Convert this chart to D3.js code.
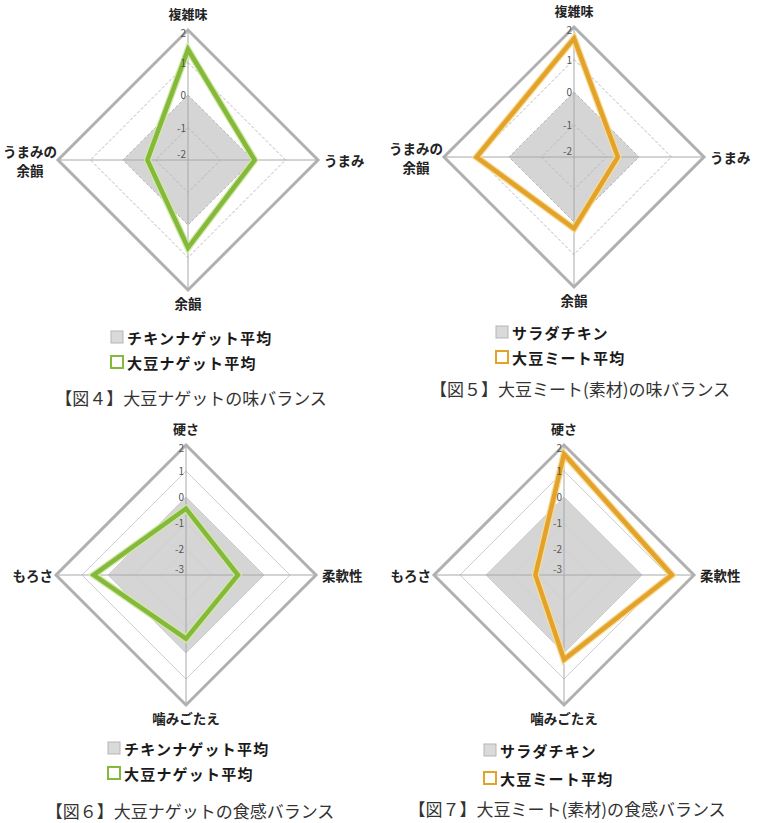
<!DOCTYPE html>
<html>
<head>
<meta charset="utf-8">
<script src="https://cdn.jsdelivr.net/npm/d3@7"></script>
<style>
  body { margin: 0; background: #fff; }
  svg { display: block; font-family: "Noto Sans CJK JP", "Noto Sans", sans-serif; }
</style>
</head>
<body>
<svg id="chart" width="760" height="823"></svg>
<script>
// axes (clockwise from top)
const tasteAxes = ['複雑味', 'うまみ', '余韻', 'うまみの\n余韻'];
const textureAxes = ['硬さ', '柔軟性', '噛みごたえ', 'もろさ'];
const tasteTicks = [-2, -1, 0, 1, 2];
const textureTicks = [-3, -2, -1, 0, 1, 2];

// fig 4: soy nuggets vs chicken nuggets (taste)
const fig4Base = [0, 0, 0, 0];
const fig4Soy = [1.4, 0.05, 0.7, -0.75];
// fig 5: soy meat vs salad chicken (taste)
const fig5Base = [0, 0, 0, 0];
const fig5Soy = [1.65, -0.65, 0.2, 1.0];
// fig 6: soy nuggets vs chicken nuggets (texture)
const fig6Base = [0, 0, 0, 0];
const fig6Soy = [-0.45, -1.0, -0.55, 0.55];
// fig 7: soy meat vs salad chicken (texture)
const fig7Base = [0, 0, 0, 0];
const fig7Soy = [1.65, 1.15, 0.25, -1.9];

const legendChicken = 'チキンナゲット平均';
const legendNugget = '大豆ナゲット平均';
const legendSalad = 'サラダチキン';
const legendMeat = '大豆ミート平均';

const titles = [
  '【図４】大豆ナゲットの味バランス',
  '【図５】大豆ミート(素材)の味バランス',
  '【図６】大豆ナゲットの食感バランス',
  '【図７】大豆ミート(素材)の食感バランス'
];

const GREEN = '#84b93a';
const ORANGE = '#e3a22b';
const R = 130;

const panels = [
  { cx: 188, cy: 160, axes: tasteAxes, ticks: tasteTicks, base: fig4Base, soy: fig4Soy,
    color: GREEN, halo: '#d2e8a8', legend: [legendChicken, legendNugget],
    lx: 110, ly: [337, 362], title: titles[0], tx: 191, ty: 397, dashed: true },
  { cx: 574, cy: 157, axes: tasteAxes, ticks: tasteTicks, base: fig5Base, soy: fig5Soy,
    color: ORANGE, halo: '#f7dc95', legend: [legendSalad, legendMeat],
    lx: 495, ly: [332, 357], title: titles[1], tx: 580, ty: 388, dashed: true },
  { cx: 186, cy: 575, axes: textureAxes, ticks: textureTicks, base: fig6Base, soy: fig6Soy,
    color: GREEN, halo: '#d2e8a8', legend: [legendChicken, legendNugget],
    lx: 107, ly: [748, 773], title: titles[2], tx: 190, ty: 810, dashed: false },
  { cx: 564, cy: 575, axes: textureAxes, ticks: textureTicks, base: fig7Base, soy: fig7Soy,
    color: ORANGE, halo: '#f7dc95', legend: [legendSalad, legendMeat],
    lx: 483, ly: [750, 778], title: titles[3], tx: 567, ty: 808, dashed: false }
];

const svg = d3.select('#chart');

panels.forEach(p => {
  const g = svg.append('g').attr('transform', `translate(${p.cx},${p.cy})`);
  const r = d3.scaleLinear()
    .domain(d3.extent(p.ticks))
    .range([0, R]);
  const angle = i => i * Math.PI / 2;
  const pt = (v, i) => [r(v) * Math.sin(angle(i)), -r(v) * Math.cos(angle(i))];
  const ring = v => p.axes.map((_, i) => pt(v, i));
  const closed = d3.line().curve(d3.curveLinearClosed);
  const top = r.domain()[1];

  // baseline product (filled grey)
  g.append('path')
    .attr('d', closed(p.base.map(pt)))
    .attr('fill', '#d5d5d5');

  // inner grid rings
  const inner = p.ticks.slice(1, -1);
  g.selectAll('path.grid')
    .data(inner)
    .join('path')
    .attr('class', 'grid')
    .attr('d', v => closed(ring(v)))
    .attr('fill', 'none')
    .attr('stroke', p.dashed ? '#b8b8b8' : '#cfcfcf')
    .attr('stroke-width', 1)
    .attr('stroke-dasharray', p.dashed ? '3,2' : null);

  // spokes
  g.selectAll('line.spoke')
    .data(p.axes)
    .join('line')
    .attr('class', 'spoke')
    .attr('x1', 0).attr('y1', 0)
    .attr('x2', (d, i) => pt(top, i)[0])
    .attr('y2', (d, i) => pt(top, i)[1])
    .attr('stroke', '#a8a8a8')
    .attr('stroke-width', 1);

  // outer ring
  g.append('path')
    .attr('d', closed(ring(top)))
    .attr('fill', 'none')
    .attr('stroke', '#b0b0b0')
    .attr('stroke-width', 3);

  // soy series
  const soyPath = closed(p.soy.map(pt));
  g.append('path')
    .attr('d', soyPath)
    .attr('fill', 'none')
    .attr('stroke', p.halo)
    .attr('stroke-width', 7);
  g.append('path')
    .attr('d', soyPath)
    .attr('fill', 'none')
    .attr('stroke', p.color)
    .attr('stroke-width', 4.5);

  // tick labels along the top spoke
  g.selectAll('text.tick')
    .data(p.ticks)
    .join('text')
    .attr('class', 'tick')
    .attr('x', -2)
    .attr('y', v => -r(v) + (v === p.ticks[0] ? -2 : (v === top ? 7 : 4)))
    .attr('text-anchor', 'end')
    .attr('font-size', 10)
    .attr('fill', '#555')
    .text(d => d);

  // axis labels
  p.axes.forEach((name, i) => {
    const lines = name.split('\n');
    const t = g.append('text')
      .attr('font-size', i === 0 ? 13 : 13.5)
      .attr('font-weight', 'bold')
      .attr('fill', '#222')
      .attr('dominant-baseline', 'central');
    let x = 0, y = 0, anchor = 'middle';
    if (i === 0) { y = -R - 17; }
    else if (i === 1) { x = R + 6; anchor = 'start'; }
    else if (i === 2) { y = R + 13; }
    else {
      if (lines.length > 1) { x = -R - 28; y = -9; }
      else { x = -R - 3; anchor = 'end'; }
    }
    t.attr('text-anchor', anchor);
    lines.forEach((ln, k) => {
      t.append('tspan')
        .attr('x', x)
        .attr('y', y + k * 19)
        .text(ln);
    });
  });

  // legend
  const lg = svg.append('g');
  p.legend.forEach((label, k) => {
    const y = p.ly[k];
    lg.append('rect')
      .attr('x', p.lx + 1).attr('y', y - 6)
      .attr('width', 12).attr('height', 12)
      .attr('fill', k === 0 ? '#dadada' : '#fff')
      .attr('stroke', k === 0 ? '#b5b5b5' : p.color)
      .attr('stroke-width', k === 0 ? 1 : 2);
    lg.append('text')
      .attr('x', p.lx + 17).attr('y', y)
      .attr('dominant-baseline', 'central')
      .attr('font-size', 15)
      .attr('font-weight', 'bold')
      .attr('letter-spacing', 1.2)
      .attr('fill', '#1a1a1a')
      .text(label);
  });

  // caption
  svg.append('text')
    .attr('x', p.tx).attr('y', p.ty)
    .attr('text-anchor', 'middle')
    .attr('dominant-baseline', 'central')
    .attr('font-size', 17)
    .attr('fill', '#333')
    .text(p.title);
});
</script>
</body>
</html>
